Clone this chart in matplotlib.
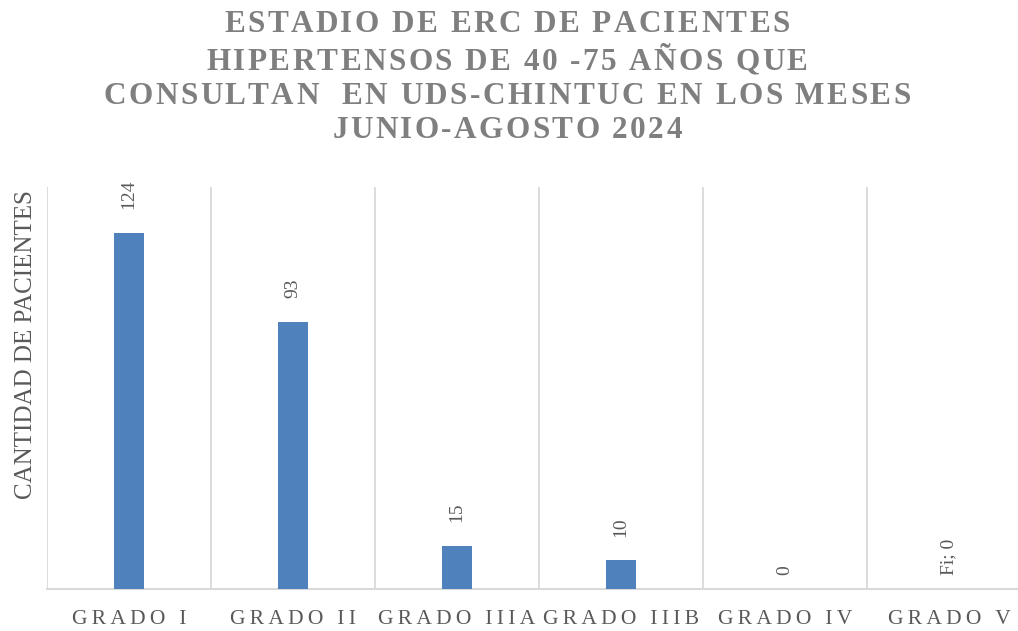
import numpy as np
import matplotlib
matplotlib.use("Agg")
import matplotlib.pyplot as plt

plt.rcParams['font.family'] = ['Liberation Serif', 'DejaVu Serif']

# data
categorias = ["GRADO I", "GRADO II", "GRADO IIIA", "GRADO IIIB", "GRADO IV", "GRADO V"]
pacientes = [124, 93, 15, 10, 0, 0]
etiquetas = ["124", "93", "15", "10", "0", "Fi; 0"]

titulo = ["ESTADIO DE ERC DE PACIENTES",
          "HIPERTENSOS DE 40 -75 AÑOS QUE",
          "CONSULTAN  EN UDS-CHINTUC EN LOS MESES",
          "JUNIO-AGOSTO 2024"]

def espaciar(txt, sep="\u2009"):
    # letter spacing like the original chart
    return sep.join(list(txt))

W, H = 1018, 631

def texto_espaciado(fig, xc, y, txt, extra, **kw):
    # draw a line of text char by char with extra pixels between letters
    r = fig.canvas.get_renderer()
    def ancho(s):
        t = fig.text(0, 0, s, **kw)
        w = t.get_window_extent(r).width
        t.remove()
        return w
    base = ancho("||")
    anchos = [ancho("|" + c + "|") - base for c in txt]
    total = sum(anchos) + extra * (len(txt) - 1)
    xp = xc - total / 2
    for c, w in zip(txt, anchos):
        if c != " ":
            fig.text(xp / W, 1 - y / H, c, ha="left", va="center", **kw)
        xp += w + extra

gris = "#595959"
azul = "#4f81bd"

fig = plt.figure(figsize=(W / 100, H / 100), dpi=100)
ax = fig.add_axes([47/W, 42/H, 984/W, 402/H])

x = np.arange(len(categorias))
ax.bar(x, pacientes, width=0.18, color=azul, zorder=3)
ax.set_xlim(-0.5, len(categorias) - 0.5)
ax.set_ylim(0, 140)

for xi, v, lab in zip(x, pacientes, etiquetas):
    off = 17 if v > 0 else 10
    ax.annotate(lab, (xi, v), xytext=(0, off), textcoords="offset points",
                rotation=90, ha="center", va="bottom", fontsize=14, color=gris)

# vertical separators between categories
for b in np.arange(-0.5, len(categorias) + 0.5, 1):
    ax.axvline(b, color="#d9d9d9", lw=1.3, zorder=1)

ax.set_yticks([])
ax.set_xticks(x)
ax.set_xticklabels([espaciar(c) for c in categorias], fontsize=15.5, color=gris)
ax.tick_params(axis="x", length=0, pad=15)
for s in ["top", "right", "left"]:
    ax.spines[s].set_visible(False)
ax.spines["bottom"].set_color("#d9d9d9")
ax.spines["bottom"].set_linewidth(1.5)

fig.text(26/W, 1 - 345/H, "CANTIDAD DE PACIENTES", rotation=90,
         ha="center", va="center", fontsize=18, color=gris)

ys = [25, 62, 97, 130]
for y, t in zip(ys, titulo):
    texto_espaciado(fig, 507, y, t, 2.4, fontsize=22.5, family="Liberation Serif",
                    fontweight="bold", color="#7f7f7f")

fig.savefig("out.png", dpi=100)
